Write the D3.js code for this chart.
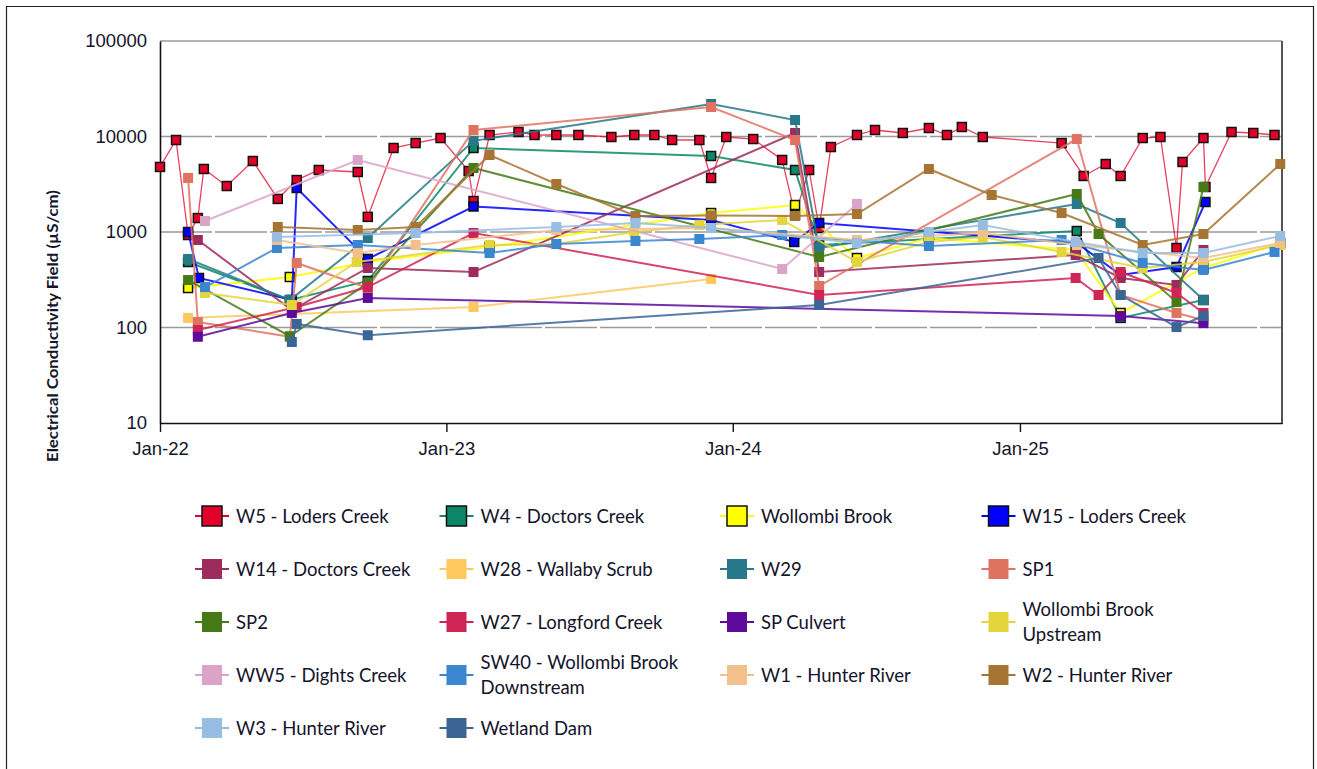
<!DOCTYPE html>
<html><head><meta charset="utf-8">
<script src="https://cdn.jsdelivr.net/npm/d3@7"></script>
<style>
html,body{margin:0;padding:0;background:#fff;}
svg{display:block;font-family:Lato,"Open Sans",sans-serif;}
</style></head><body>
<svg id="chart" width="1317" height="769"></svg>
<script>
// Each point: [decimal year, electrical conductivity µS/cm]
const W5 = [[2022.000,4800],[2022.056,9190],[2022.098,930],[2022.132,1400],[2022.153,4570],[2022.233,3030],[2022.324,5540],[2022.411,2220],[2022.477,3500],[2022.554,4460],[2022.690,4250],[2022.725,1440],[2022.815,7580],[2022.892,8540],[2022.979,9640],[2023.077,4350],[2023.094,2110],[2023.150,10370],[2023.251,11150],[2023.307,10370],[2023.383,10370],[2023.460,10370],[2023.575,9880],[2023.655,10370],[2023.725,10370],[2023.787,9190],[2023.882,9190],[2023.923,3680],[2023.976,9880],[2024.070,9410],[2024.171,5680],[2024.216,1510],[2024.265,4460],[2024.300,1100],[2024.341,7760],[2024.432,10370],[2024.495,11700],[2024.592,10880],[2024.683,12270],[2024.746,10370],[2024.798,12580],[2024.871,9880],[2025.146,8540],[2025.223,3860],[2025.300,5150],[2025.352,3860],[2025.429,9640],[2025.491,9880],[2025.547,680],[2025.568,5410],[2025.641,9640],[2025.648,2960],[2025.739,11150],[2025.815,10880],[2025.889,10370]];
const W4 = [[2022.098,485],[2022.453,194],[2022.725,307],[2023.094,7580],[2023.923,6250],[2024.216,4460],[2024.300,731],[2025.199,1024],[2025.352,126],[2025.641,194]];
const WollombiBrook = [[2022.098,259],[2022.453,338],[2022.725,485],[2023.150,697],[2023.923,1580],[2024.216,1917],[2024.432,534],[2024.683,865],[2025.195,648],[2025.352,142],[2025.641,420],[2025.909,767]];
const W15 = [[2022.098,1000],[2022.136,330],[2022.460,194],[2022.477,2890],[2022.725,522],[2023.094,1850],[2023.923,1336],[2024.213,786],[2024.300,1243],[2025.199,767],[2025.352,355],[2025.547,430],[2025.648,2061]];
const W14 = [[2022.132,825],[2022.460,152],[2022.725,420],[2023.094,381],[2024.216,10880],[2024.300,381],[2025.195,574],[2025.352,330],[2025.547,279],[2025.641,648]];
const W28 = [[2022.098,126],[2023.094,164],[2023.923,322]];
const W29 = [[2022.098,522],[2022.453,194],[2022.725,865],[2023.094,9000],[2023.923,21890],[2024.216,14890],[2024.300,680],[2025.199,1965],[2025.352,1243],[2025.641,194]];
const SP1 = [[2022.098,3680],[2022.132,114],[2022.453,80],[2022.477,474],[2022.725,259],[2023.094,11700],[2023.923,20370],[2024.216,9190],[2024.300,272],[2025.199,9410],[2025.352,219],[2025.547,142],[2025.641,120]];
const SP2 = [[2022.098,314],[2022.453,81],[2022.725,292],[2023.094,4680],[2024.300,547],[2025.199,2500],[2025.275,953],[2025.547,185],[2025.641,2960]];
const W27 = [[2022.132,94],[2022.477,164],[2022.725,265],[2023.094,976],[2024.300,219],[2025.195,330],[2025.275,219],[2025.352,381],[2025.547,230],[2025.641,142]];
const SPCulvert = [[2022.132,80],[2022.460,142],[2022.725,204],[2025.352,132],[2025.641,111]];
const WollombiUpstream = [[2022.157,230],[2022.460,172],[2022.686,485],[2023.150,731],[2023.383,749],[2023.655,1000],[2023.882,1185],[2024.171,1336],[2024.432,485],[2024.683,786],[2024.871,886],[2025.146,618],[2025.429,420],[2025.641,485],[2025.909,731]];
const WW5 = [[2022.157,1304],[2022.690,5680],[2024.171,410],[2024.432,1965]];
const SW40 = [[2022.157,265],[2022.408,680],[2022.690,731],[2023.150,603],[2023.383,749],[2023.659,805],[2023.882,845],[2024.171,930],[2024.683,713],[2025.146,825],[2025.429,474],[2025.641,400],[2025.889,618]];
const W1 = [[2022.408,825],[2022.690,603],[2022.892,731],[2023.383,1049],[2023.923,1100],[2024.432,825],[2024.871,976],[2025.199,731],[2025.641,534],[2025.909,767]];
const W2 = [[2022.411,1128],[2022.690,1049],[2022.892,1128],[2023.150,6404],[2023.383,3181],[2023.659,1471],[2023.923,1490],[2024.216,1471],[2024.432,1543],[2024.683,4570],[2024.902,2440],[2025.146,1580],[2025.429,731],[2025.641,953],[2025.909,5150]];
const W3 = [[2022.408,886],[2022.892,976],[2023.383,1128],[2023.659,1243],[2023.923,1100],[2024.432,767],[2024.683,1000],[2024.871,1185],[2025.195,786],[2025.429,603],[2025.641,603],[2025.909,908]];
const WetlandDam = [[2022.460,70.5],[2022.477,109],[2022.725,83],[2024.300,172],[2025.275,534],[2025.352,219],[2025.547,101],[2025.641,132]];

const seriesNames = ["W5 - Loders Creek","W4 - Doctors Creek","Wollombi Brook","W15 - Loders Creek",
  "W14 - Doctors Creek","W28 - Wallaby Scrub","W29","SP1",
  "SP2","W27 - Longford Creek","SP Culvert","Wollombi Brook\nUpstream",
  "WW5 - Dights Creek","SW40 - Wollombi Brook\nDownstream","W1 - Hunter River","W2 - Hunter River",
  "W3 - Hunter River","Wetland Dam"];
const seriesData = [W5,W4,WollombiBrook,W15,W14,W28,W29,SP1,SP2,W27,SPCulvert,WollombiUpstream,WW5,SW40,W1,W2,W3,WetlandDam];
const seriesColors = ["#e2002a","#0d8767","#ffff00","#0000ff","#9e2b5e","#ffc85e","#26788a","#e07262",
  "#467a17","#cf2555","#5e0a9b","#e3d53b","#dca3c8","#3a86d0","#f2c18b","#a67433","#98bde3","#3b6595"];
const seriesBordered = [true,true,true,true,false,false,false,false,false,false,false,false,false,false,false,false,false,false];

const yTickValues = [10,100,1000,10000,100000];
const xTickDates = ["2022-01-01","2023-01-01","2024-01-01","2025-01-01"];
const xTickLabels = ["Jan-22","Jan-23","Jan-24","Jan-25"];
const yTitle = "Electrical Conductivity Field (µS/cm)";

const toDate = t => new Date(Date.UTC(2022,0,1) + (t-2022)*365.25*86400000);

const svg = d3.select("#chart");
const L=160, R=1282, T=41, B=423;
const x = d3.scaleUtc().domain([new Date(Date.UTC(2022,0,1)), new Date(Date.UTC(2025,11,1))]).range([L,R]);
const y = d3.scaleLog().domain([10,100000]).range([B,T]);

// outer frame
svg.append("path").attr("d",`M6.5,780 V6.5 H1313.5 V780`).attr("fill","none").attr("stroke","#222").attr("stroke-width",1.2);

// gridlines
svg.append("g").selectAll("line").data(yTickValues.slice(1,4)).join("line")
  .attr("x1",L).attr("x2",R).attr("y1",d=>y(d)).attr("y2",d=>y(d))
  .attr("stroke","#9a9a9a").attr("stroke-width",1.6).attr("stroke-dasharray","52,3");
svg.append("line").attr("x1",L).attr("x2",R).attr("y1",y(100000)).attr("y2",y(100000))
  .attr("stroke","#9a9a9a").attr("stroke-width",1.6);
svg.append("line").attr("x1",R).attr("x2",R).attr("y1",T).attr("y2",B+1)
  .attr("stroke","#555").attr("stroke-width",2);

// axes
const yAxis = svg.append("g").attr("transform",`translate(${L},0)`)
  .call(d3.axisLeft(y).tickValues(yTickValues).tickFormat(d3.format("d")).tickSize(0).tickPadding(13));
yAxis.select(".domain").attr("stroke","#111").attr("stroke-width",1.6);
yAxis.selectAll("text").attr("font-size",18.5).attr("fill","#14142b");

const xAxis = svg.append("g").attr("transform",`translate(0,${B})`)
  .call(d3.axisBottom(x).tickValues(xTickDates.map(s=>new Date(s+"T00:00:00Z"))).tickFormat((d,i)=>xTickLabels[i]).tickSize(9).tickSizeOuter(0).tickPadding(10));
xAxis.select(".domain").attr("stroke","#111").attr("stroke-width",1.6);
xAxis.selectAll(".tick line").attr("stroke","#111").attr("stroke-width",1.4);
xAxis.selectAll("text").attr("font-size",18.5).attr("fill","#14142b");

svg.append("text").attr("transform","translate(58,326) rotate(-90)").attr("text-anchor","middle")
  .attr("font-size",15).attr("font-weight","bold").attr("fill","#14142b")
  .attr("textLength",272).attr("lengthAdjust","spacingAndGlyphs").text(yTitle);

// series
const line = d3.line().x(d=>x(toDate(d[0]))).y(d=>y(d[1]));
const plot = svg.append("g");
seriesData.forEach((data,i)=>{
  const g = plot.append("g");
  g.append("path").datum(data).attr("d",line).attr("fill","none")
    .attr("stroke",seriesColors[i]).attr("stroke-width", i===0?1.3:2).attr("stroke-opacity", i===0?0.75:0.85);
  const s = seriesBordered[i] ? 9 : 10;
  g.selectAll("rect").data(data).join("rect")
    .attr("x",d=>x(toDate(d[0]))-s/2).attr("y",d=>y(d[1])-s/2).attr("width",s).attr("height",s)
    .attr("fill",seriesColors[i])
    .attr("stroke",seriesBordered[i]?"#111":"none").attr("stroke-width",1.5);
});

// legend
const colX = [212,456.5,737,998.5];
const leg = svg.append("g");
seriesNames.forEach((name,i)=>{
  const cx = colX[i%4], cy = 516 + Math.floor(i/4)*53;
  const g = leg.append("g");
  g.append("line").attr("x1",cx-17).attr("x2",cx+17).attr("y1",cy).attr("y2",cy)
    .attr("stroke",seriesColors[i]).attr("stroke-width",2);
  g.append("rect").attr("x",cx-10).attr("y",cy-10).attr("width",20).attr("height",20)
    .attr("fill",seriesColors[i]).attr("stroke",seriesBordered[i]?"#111":"none").attr("stroke-width",1.5);
  const lines = name.split("\n");
  const t = g.append("text").attr("x",cx+24).attr("font-size",18.5).attr("fill","#14142b");
  lines.forEach((ln,j)=>{
    t.append("tspan").attr("x",cx+24).attr("y", cy + 6.5 + (j - (lines.length-1)/2)*25).text(ln);
  });
});
</script></body></html>
